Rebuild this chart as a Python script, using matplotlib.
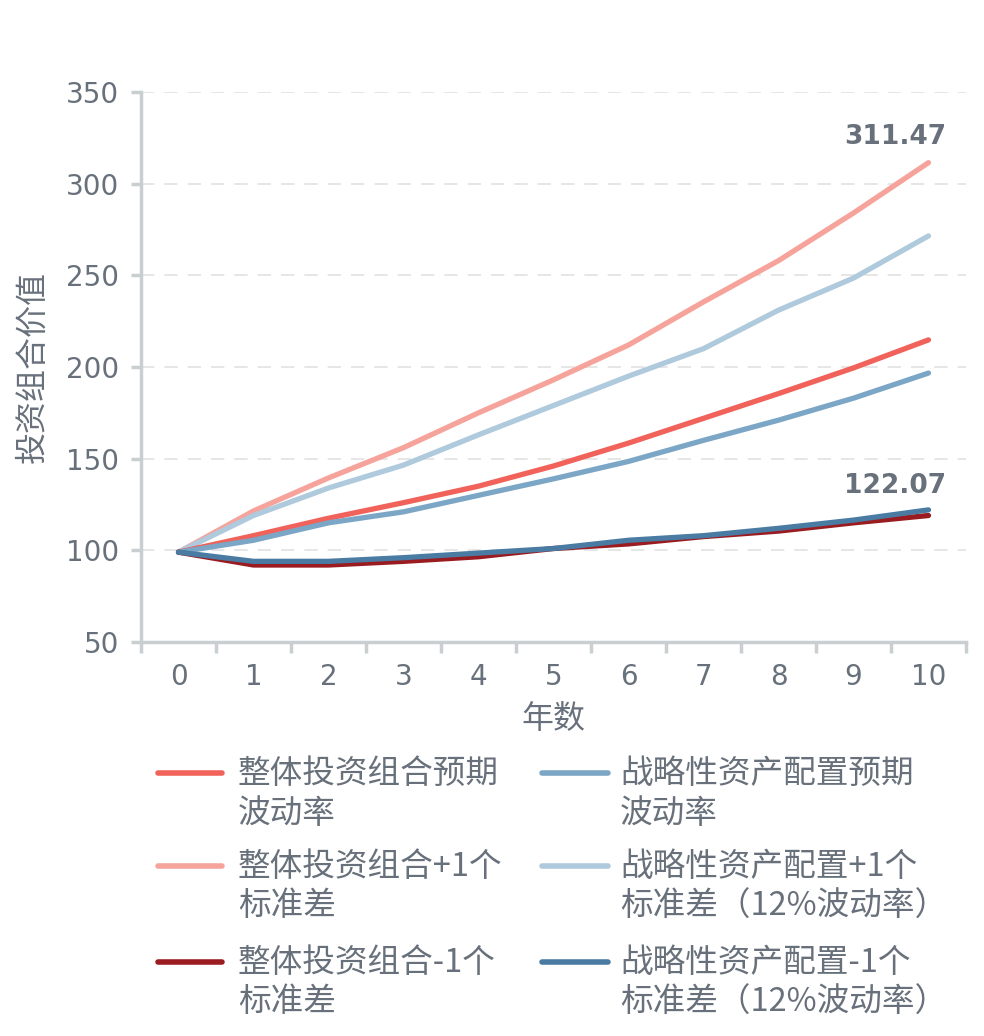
import matplotlib
matplotlib.use('Agg')
import matplotlib.pyplot as plt
from matplotlib.lines import Line2D
from matplotlib.ticker import FixedLocator

plt.rcParams['font.family'] = ['Noto Sans CJK SC', 'DejaVu Sans']

years = list(range(11))
port_mid = [99, 108, 117.5, 126, 135, 146, 158.5, 172, 185.5, 199.5, 214.8]
saa_mid = [99, 105.5, 115, 121, 130, 139, 148.5, 160, 171, 183, 196.7]
port_up = [99, 121.5, 139.5, 156, 175, 193, 212, 235.5, 258, 284, 311.47]
saa_up = [99, 119, 134, 146.5, 163, 179, 195, 210, 231, 248.5, 271.5]
port_dn = [99, 92, 92, 94, 96.5, 101, 103.5, 107.5, 110.5, 115, 119]
saa_dn = [99, 94, 94, 96, 98.5, 101, 105.5, 108, 112, 116.5, 122.07]

names = ['整体投资组合预期\n波动率', '整体投资组合+1个\n标准差', '整体投资组合-1个\n标准差',
         '战略性资产配置预期\n波动率', '战略性资产配置+1个\n标准差（12%波动率）',
         '战略性资产配置-1个\n标准差（12%波动率）']
series = [port_mid, port_up, port_dn, saa_mid, saa_up, saa_dn]
colors = ['#F0625A', '#F6A39B', '#9A1C20', '#7BA6C6', '#AFCADC', '#497BA3']
zorders = [3, 2, 4, 3, 2, 5]

text_col = '#68717B'
axis_col = '#C9CED1'
num_font = 'DejaVu Sans'

W, H = 984, 1036
fig = plt.figure(figsize=(W / 100, H / 100), dpi=100)
ax = fig.add_axes([0.1433, 0.3803, 0.8384, 0.5309])

for s, c, z in zip(series, colors, zorders):
    ax.plot(years, s, color=c, lw=3.8, solid_capstyle='round',
            solid_joinstyle='round', zorder=z)

ax.annotate('311.47', (10, port_up[-1]), xytext=(13, 9), textcoords='offset points',
            ha='right', va='bottom', fontsize=19, fontweight='bold', color=text_col,
            family=num_font)
ax.annotate('122.07', (10, saa_dn[-1]), xytext=(13, 8), textcoords='offset points',
            ha='right', va='bottom', fontsize=19, fontweight='bold', color=text_col,
            family=num_font)

ax.set_xlim(-0.5, 10.5)
ax.set_ylim(50, 350)
ax.set_yticks(range(50, 351, 50))
ax.set_xticks(years)
ax.xaxis.set_minor_locator(FixedLocator([i - 0.5 for i in range(12)]))
ax.tick_params(axis='x', which='major', length=0, pad=15, labelsize=20, labelcolor=text_col)
ax.tick_params(axis='x', which='minor', length=8, width=2.5, color=axis_col)
ax.tick_params(axis='y', length=7, width=2.5, color=axis_col, pad=9,
               labelsize=20, labelcolor=text_col)
for lab in ax.get_xticklabels() + ax.get_yticklabels():
    lab.set_family(num_font)

ax.grid(axis='y', color='#E2E2E2', lw=1.2, ls=(0, (8, 6)))
ax.set_axisbelow(True)
for side in ['top', 'right']:
    ax.spines[side].set_visible(False)
for side in ['left', 'bottom']:
    ax.spines[side].set_color(axis_col)
    ax.spines[side].set_linewidth(2.5)

ax.set_ylabel('投资组合价值', fontsize=23, color=text_col, labelpad=12)
ax.set_xlabel('年数', fontsize=23, color=text_col, labelpad=9)

# legend drawn by hand: handle sits beside the first line of each two-line label
col_x = [(158, 222, 238), (542, 608, 620)]
row_y = [773, 866, 962]
for i, (name, c) in enumerate(zip(names, colors)):
    x0, x1, tx = col_x[i // 3]
    y = 1 - row_y[i % 3] / H
    fig.add_artist(Line2D([x0 / W, x1 / W], [y, y], color=c, lw=4,
                          solid_capstyle='round', transform=fig.transFigure))
    fig.text(tx / W, y + 15 / H, name, ha='left', va='top', fontsize=23.5,
             color=text_col, linespacing=1.3)

fig.savefig('out.png', dpi=100)
